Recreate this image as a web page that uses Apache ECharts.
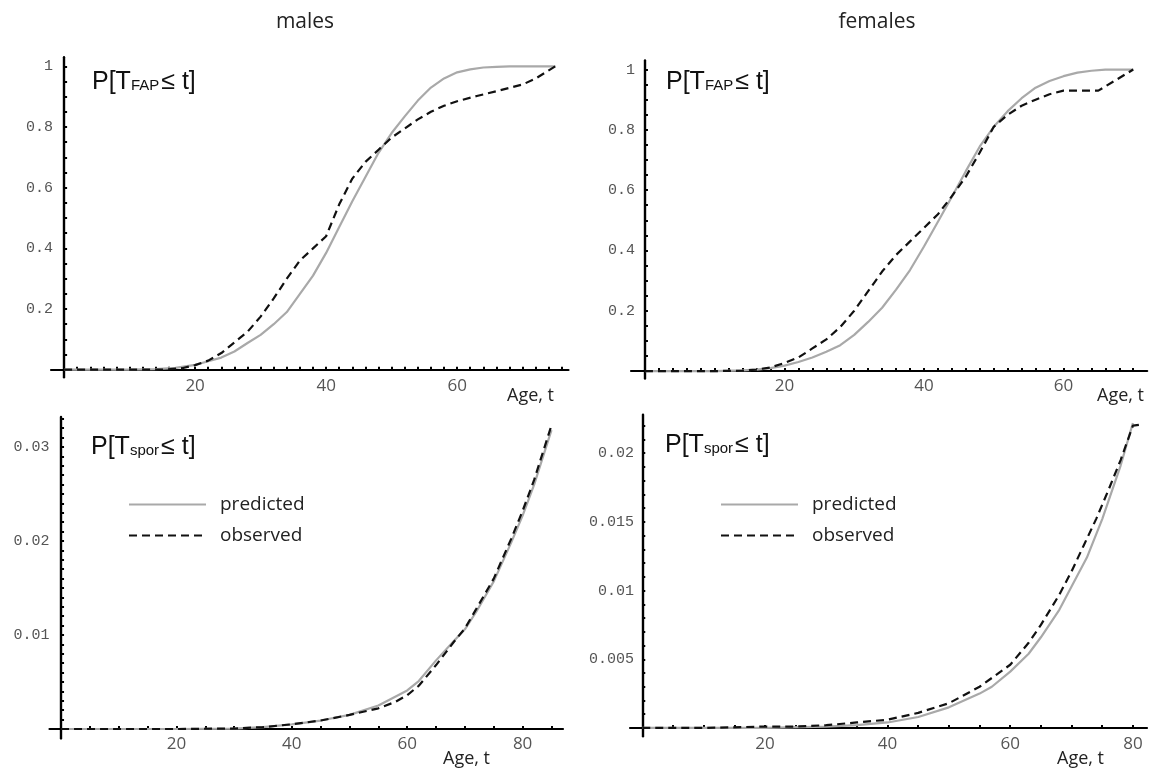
<!DOCTYPE html>
<html><head><meta charset="utf-8">
<script src="https://cdn.jsdelivr.net/npm/echarts@6/dist/echarts.min.js"></script>
<style>html,body{margin:0;padding:0;background:#fff}#c{width:1157px;height:773px}</style>
</head><body><div id="c"></div>
<script>
// ---------- DATA ----------
// males, P[T_FAP <= t]
const maleFapPredAge = [0,10,14,17,20,22,24,26,28,30,32,34,36,38,40,42,44,46,48,50,52,54,56,58,60,62,64,66,68,75];
const maleFapPred    = [0,0,0.002,0.006,0.016,0.028,0.04,0.06,0.088,0.115,0.15,0.19,0.25,0.31,0.385,0.47,0.555,0.635,0.715,0.78,0.835,0.887,0.93,0.96,0.98,0.99,0.996,0.998,1.0,1.0];
const maleFapObsAge  = [0,10,15,18,20,22,24,26,28,30,32,34,36,38,40,42,44,46,48,50,52,54,56,58,60,63,66,70,72,75];
const maleFapObs     = [0,0,0,0.005,0.015,0.03,0.055,0.09,0.125,0.175,0.235,0.3,0.36,0.4,0.44,0.545,0.63,0.685,0.725,0.765,0.795,0.825,0.85,0.87,0.885,0.902,0.918,0.94,0.96,1.0];
// females, P[T_FAP <= t]
const femFapPredAge  = [0,10,14,16,18,20,22,24,26,28,30,32,34,36,38,40,42,44,46,48,50,52,54,56,58,60,62,64,66,70];
const femFapPred     = [0,0,0.002,0.005,0.01,0.018,0.03,0.045,0.064,0.086,0.12,0.163,0.21,0.27,0.335,0.413,0.495,0.578,0.663,0.745,0.81,0.862,0.905,0.94,0.962,0.978,0.99,0.996,1.0,1.0];
const femFapObsAge   = [0,10,14,16,18,20,22,24,26,28,30,32,34,36,38,40,42,44,46,48,50,52,54,56,58,60,65,70];
const femFapObs      = [0,0,0.001,0.005,0.012,0.027,0.045,0.075,0.105,0.146,0.2,0.265,0.33,0.385,0.43,0.475,0.52,0.58,0.645,0.725,0.81,0.85,0.88,0.9,0.918,0.93,0.93,1.0];
// males, P[T_spor <= t]
const maleSporPredAge = [0,20,30,35,40,45,50,55,60,62,65,68,70,72,75,78,80,82,85];
const maleSporPred    = [0,0,0.00005,0.0002,0.0005,0.0009,0.0015,0.0025,0.0041,0.0051,0.0073,0.0093,0.0106,0.0125,0.0157,0.0198,0.0227,0.026,0.0318];
const maleSporObsAge  = [0,20,30,35,40,45,50,55,58,60,62,65,68,70,72,75,78,80,82,85];
const maleSporObs     = [0,0,0.00005,0.0002,0.0005,0.0009,0.0015,0.0022,0.0029,0.0036,0.0046,0.0068,0.0092,0.0107,0.0128,0.016,0.0202,0.0232,0.0265,0.0323];
// females, P[T_spor <= t]
const femSporPredAge = [0,20,30,35,40,45,50,55,57,60,63,65,68,70,72.5,75,78,80];
const femSporPred    = [0,0,0.0001,0.0002,0.0004,0.0008,0.0015,0.0025,0.003,0.0041,0.0054,0.0066,0.0086,0.0103,0.0124,0.0152,0.0191,0.0222];
const femSporObsAge  = [0,10,20,25,30,35,40,45,50,55,60,63,65,68,70,72,74,76,78,80,81.5];
const femSporObs     = [0,0,0.0001,0.0001,0.0002,0.0004,0.0006,0.0011,0.0018,0.003,0.0046,0.0062,0.0075,0.0097,0.0114,0.0133,0.0152,0.0173,0.0195,0.022,0.0221];

// tick labels
const topXLabels   = [20,40,60];
const botXLabels   = [20,40,60,80];
const topYLabels   = [0.2,0.4,0.6,0.8,1];
const mSporYLabels = [0.01,0.02,0.03];
const fSporYLabels = [0.005,0.01,0.015,0.02];
const panelTitles  = ['males','females'];
const seriesNames  = ['predicted','observed'];

// ---------- helpers ----------
function pairs(a, v){ return a.map((x,i)=>[x, v[i]]); }
function steps(from, to, step, scale){ const out=[]; for(let i=from;i<=to;i+=step){ out.push(Math.round(i)/scale); } return out; }

const GRAY = '#a9a9a9', DARK = '#111';
const grids = [
  {left:51,  top:57.2,  width:517.5, height:320.1},
  {left:631, top:60.5,  width:516.2, height:318.1},
  {left:49.5,top:416.9, width:513.5, height:321.5},
  {left:630, top:414.7, width:517,   height:321.5}
];
const xr = [[-2,77],[-2,72],[-2,87],[-2,82.3]];
const yr = [[-0.025,1.03],[-0.025,1.03],[-0.001,0.0332],[-0.0006,0.0228]];
const xTicks = [steps(2,76,2,1), steps(2,70,2,1), steps(5,85,5,1), steps(5,80,5,1)];
const yTicks = [steps(5,100,5,100), steps(5,100,5,100), steps(1,33,1,1000), steps(1,22,1,1000)];
const xLab = [topXLabels, topXLabels, botXLabels, botXLabels];
const yLab = [topYLabels, topYLabels, mSporYLabels, fSporYLabels];
const xMargin = [0,-1,-3,-1];
const yMargin = [-2,-4,0,-4];

const xAxis = grids.map((g,i)=>({
  type:'value', gridIndex:i, min:xr[i][0], max:xr[i][1],
  splitLine:{show:false},
  axisLine:{onZero:true, lineStyle:{color:'#000', width:2.2}},
  axisTick:{inside:true, length:3, lineStyle:{color:'#000', width:2}, customValues:xTicks[i]},
  axisLabel:{customValues:xLab[i], margin:xMargin[i], color:'#555', fontFamily:'Open Sans', fontSize:17}
}));
const yAxis = grids.map((g,i)=>({
  type:'value', gridIndex:i, min:yr[i][0], max:yr[i][1],
  splitLine:{show:false},
  axisLine:{onZero:true, lineStyle:{color:'#000', width:2.4}},
  axisTick:{inside:true, length:3, lineStyle:{color:'#000', width:2}, customValues:yTicks[i]},
  axisLabel:{customValues:yLab[i], margin:yMargin[i], color:'#555', fontFamily:'Liberation Mono', fontSize:15}
}));

const data = [
  [pairs(maleFapPredAge,maleFapPred), pairs(maleFapObsAge,maleFapObs)],
  [pairs(femFapPredAge,femFapPred),   pairs(femFapObsAge,femFapObs)],
  [pairs(maleSporPredAge,maleSporPred), pairs(maleSporObsAge,maleSporObs)],
  [pairs(femSporPredAge,femSporPred),   pairs(femSporObsAge,femSporObs)]
];
const series = [];
data.forEach((d,i)=>{
  series.push({type:'line', name:seriesNames[0], xAxisIndex:i, yAxisIndex:i, data:d[0], symbol:'none', z:3,
    lineStyle:{color:GRAY, width:2.2}, itemStyle:{color:GRAY}});
  series.push({type:'line', name:seriesNames[1], xAxisIndex:i, yAxisIndex:i, data:d[1], symbol:'none', z:4,
    lineStyle:{color:DARK, width:2.2, type:[8,5]}, itemStyle:{color:DARK}});
});

const txt = (x,y,t,size,align)=>({type:'text', x:x, y:y, z:10,
  style:{text:t, fill:'#222', font:size+'px "Open Sans"', align:align||'left', verticalAlign:'middle'}});
const ptxt = (x,y,sub)=>({type:'text', x:x, y:y, z:10,
  style:{text:'{a|P[T}{b|'+sub+'}{a|≤ t]}', verticalAlign:'middle', align:'left',
    rich:{a:{fontSize:25, fontFamily:'Liberation Sans', fill:'#111'},
          b:{fontSize:15, fontFamily:'Liberation Sans', fill:'#111', padding:[8,2,0,0]}}}});

const legendCfg = (left)=>({
  left:left, top:490, orient:'vertical', itemWidth:77, itemHeight:14, itemGap:12,
  data:seriesNames, selectedMode:false,
  itemStyle:{opacity:0, color:'transparent', borderWidth:0},
  textStyle:{fontFamily:'Open Sans', fontSize:19, color:'#222', padding:[0,0,0,9]}
});

const chart = echarts.init(document.getElementById('c'), null, {renderer:'canvas'});
chart.setOption({
  animation:false,
  backgroundColor:'#fff',
  grid:grids,
  xAxis:xAxis, yAxis:yAxis,
  series:series,
  legend:[legendCfg(123), legendCfg(715)],
  graphic:[
    txt(305,22,panelTitles[0],21,'center'),
    txt(877,22,panelTitles[1],21,'center'),
    txt(507,396,'Age, t',18), txt(1097,396,'Age, t',18),
    txt(443,759,'Age, t',18), txt(1057,759,'Age, t',18),
    ptxt(92,82,'FAP'), ptxt(666,82,'FAP'),
    ptxt(91,447,'spor'), ptxt(665,445,'spor')
  ]
});
</script></body></html>
